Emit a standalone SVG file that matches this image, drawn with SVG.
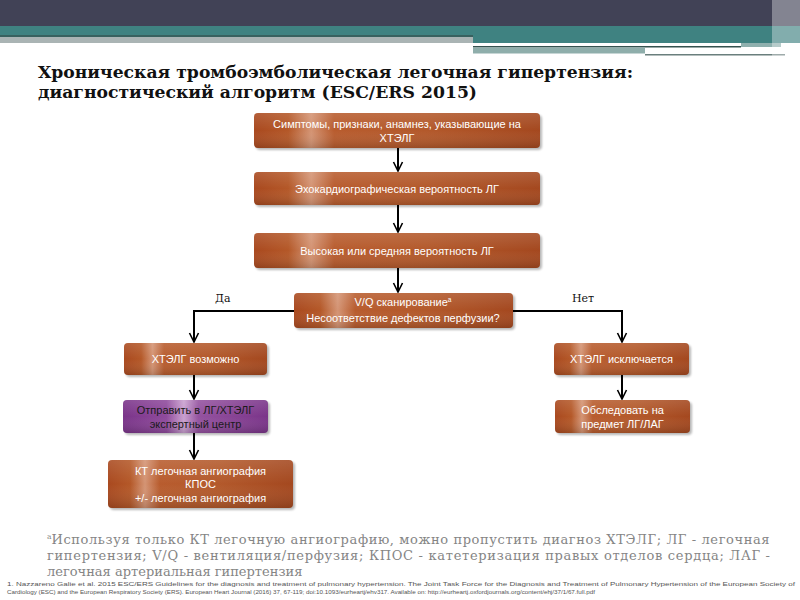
<svg xmlns="http://www.w3.org/2000/svg" width="800" height="600" viewBox="0 0 800 600">
<defs>
<style>
.bt{font-family:"Liberation Sans",Arial,sans-serif;font-size:11px;fill:#ffffff;text-anchor:middle}
.bt.dk{fill:#1a1a1a}
.lbl{font-family:"DejaVu Serif","Liberation Serif",serif;font-size:11px;fill:#111}
.ttl{font-family:"DejaVu Serif","Liberation Serif",serif;font-size:16.5px;font-weight:bold;fill:#111}
.fn{font-family:"DejaVu Serif","Liberation Serif",serif;font-size:13px;fill:#858585}
.ref{font-family:"Liberation Sans",Arial,sans-serif;font-size:6.2px;fill:#555}
.con{fill:none;stroke:#000;stroke-width:2}
.sh{fill:#000;opacity:0.28;filter:url(#blur)}
</style>
<linearGradient id="brown" x1="0" y1="0" x2="1" y2="0">
<stop offset="0" stop-color="#a9491f"/>
<stop offset="0.12" stop-color="#b45828"/>
<stop offset="0.2" stop-color="#d49474"/>
<stop offset="0.28" stop-color="#b85c2e"/>
<stop offset="0.6" stop-color="#b3592b"/>
<stop offset="1" stop-color="#a4481f"/>
</linearGradient>
<linearGradient id="purple" x1="0" y1="0" x2="1" y2="0">
<stop offset="0" stop-color="#7a3489"/>
<stop offset="0.3" stop-color="#8f4a9c"/>
<stop offset="0.42" stop-color="#c9a0cf"/>
<stop offset="0.52" stop-color="#94529f"/>
<stop offset="1" stop-color="#7a3489"/>
</linearGradient>
<linearGradient id="vshade" x1="0" y1="0" x2="0" y2="1">
<stop offset="0" stop-color="#ffffff" stop-opacity="0.12"/>
<stop offset="0.5" stop-color="#ffffff" stop-opacity="0"/>
<stop offset="1" stop-color="#000000" stop-opacity="0.15"/>
</linearGradient>
<filter id="blur" x="-10%" y="-20%" width="120%" height="150%"><feGaussianBlur stdDeviation="1.2"/></filter>
<marker id="ah" viewBox="-1 -6 11 12" refX="9" refY="0" markerWidth="11" markerHeight="12" markerUnits="userSpaceOnUse" orient="auto">
<path d="M0,-4.5 L9,0 L0,4.5" fill="none" stroke="#000" stroke-width="1.6"/>
</marker>
</defs>

<rect x="0" y="0" width="800" height="600" fill="#ffffff"/>

<g id="header">
<rect x="0" y="0" width="800" height="27" fill="#414256"/>
<rect x="0" y="26" width="800" height="11" fill="#3f8281"/>
<rect x="0" y="35" width="473" height="2" fill="#38615f"/>
<rect x="0" y="37" width="473" height="6" fill="#aab4b4"/>
<rect x="473" y="37" width="327" height="6" fill="#3f8281"/>
<rect x="473" y="43" width="268" height="3" fill="#ffffff"/>
<rect x="741" y="43" width="40" height="4" fill="#8fb0ae"/>
<rect x="473" y="46" width="268" height="1.5" fill="#35524f"/>
<rect x="473" y="47.5" width="172" height="6" fill="#8faeab"/>
<rect x="645" y="51" width="140" height="3" fill="#ffffff"/>
<rect x="645" y="54" width="140" height="1.5" fill="#6a7f7d"/>
<rect x="772" y="0" width="28" height="56" fill="#ffffff" opacity="0.35"/>
</g>

<g id="title">
<text class="ttl" x="38" y="78" textLength="595" lengthAdjust="spacingAndGlyphs">Хроническая тромбоэмболическая легочная гипертензия:</text>
<text class="ttl" x="38" y="97.5" textLength="439" lengthAdjust="spacingAndGlyphs">диагностический алгоритм (ESC/ERS 2015)</text>
</g>

<g id="connectors">
<line class="con" x1="398" y1="148" x2="398" y2="171" marker-end="url(#ah)"/>
<line class="con" x1="398" y1="205" x2="398" y2="232" marker-end="url(#ah)"/>
<line class="con" x1="398" y1="268" x2="398" y2="292" marker-end="url(#ah)"/>
<polyline class="con" points="294,311 194,311 194,342" marker-end="url(#ah)"/>
<polyline class="con" points="513,311 622,311 622,342" marker-end="url(#ah)"/>
<line class="con" x1="194" y1="375" x2="194" y2="399" marker-end="url(#ah)"/>
<line class="con" x1="194" y1="433" x2="194" y2="459" marker-end="url(#ah)"/>
<line class="con" x1="622" y1="375" x2="622" y2="399" marker-end="url(#ah)"/>
<text class="lbl" x="215" y="302">Да</text>
<text class="lbl" x="572" y="302">Нет</text>
</g>

<g id="n1">
<rect class="sh" x="256" y="115" width="286" height="35" rx="4"/>
<rect x="254" y="113" width="286" height="35" rx="4" fill="url(#brown)"/>
<rect x="254" y="113" width="286" height="35" rx="4" fill="url(#vshade)"/>
<text class="bt" x="397" y="128">Симптомы, признаки, анамнез, указывающие на</text>
<text class="bt" x="397" y="141.5">ХТЭЛГ</text>
</g>

<g id="n2">
<rect class="sh" x="256" y="174" width="286" height="33" rx="4"/>
<rect x="254" y="172" width="286" height="33" rx="4" fill="url(#brown)"/>
<rect x="254" y="172" width="286" height="33" rx="4" fill="url(#vshade)"/>
<text class="bt" x="397" y="192.5">Эхокардиографическая вероятность ЛГ</text>
</g>

<g id="n3">
<rect class="sh" x="256" y="235" width="286" height="35" rx="4"/>
<rect x="254" y="233" width="286" height="35" rx="4" fill="url(#brown)"/>
<rect x="254" y="233" width="286" height="35" rx="4" fill="url(#vshade)"/>
<text class="bt" x="397" y="254.5">Высокая или средняя вероятность ЛГ</text>
</g>

<g id="n4">
<rect class="sh" x="296" y="295" width="219" height="35" rx="4"/>
<rect x="294" y="293" width="219" height="35" rx="4" fill="url(#brown)"/>
<rect x="294" y="293" width="219" height="35" rx="4" fill="url(#vshade)"/>
<text class="bt" x="403" y="305.5">V/Q сканирование<tspan font-size="6.5" dy="-4">a</tspan></text>
<text class="bt" x="403" y="321.5">Несоответствие дефектов перфузии?</text>
</g>

<g id="n5">
<rect class="sh" x="126" y="345" width="143" height="32" rx="4"/>
<rect x="124" y="343" width="143" height="32" rx="4" fill="url(#brown)"/>
<rect x="124" y="343" width="143" height="32" rx="4" fill="url(#vshade)"/>
<text class="bt" x="195.5" y="363">ХТЭЛГ возможно</text>
</g>

<g id="n6">
<rect class="sh" x="125" y="402" width="145" height="33" rx="4"/>
<rect x="123" y="400" width="145" height="33" rx="4" fill="url(#purple)"/>
<rect x="123" y="400" width="145" height="33" rx="4" fill="url(#vshade)"/>
<text class="bt dk" x="195.5" y="413.5">Отправить в ЛГ/ХТЭЛГ</text>
<text class="bt dk" x="195.5" y="427.5">экспертный центр</text>
</g>

<g id="n7">
<rect class="sh" x="110" y="462" width="185" height="48" rx="4"/>
<rect x="108" y="460" width="185" height="48" rx="4" fill="url(#brown)"/>
<rect x="108" y="460" width="185" height="48" rx="4" fill="url(#vshade)"/>
<text class="bt" x="200.5" y="475">КТ легочная ангиография</text>
<text class="bt" x="200.5" y="488">КПОС</text>
<text class="bt" x="200.5" y="501.5">+/- легочная ангиография</text>
</g>

<g id="n8">
<rect class="sh" x="556" y="345" width="135" height="32" rx="4"/>
<rect x="554" y="343" width="135" height="32" rx="4" fill="url(#brown)"/>
<rect x="554" y="343" width="135" height="32" rx="4" fill="url(#vshade)"/>
<text class="bt" x="621.5" y="363">ХТЭЛГ исключается</text>
</g>

<g id="n9">
<rect class="sh" x="557" y="402" width="135" height="33" rx="4"/>
<rect x="555" y="400" width="135" height="33" rx="4" fill="url(#brown)"/>
<rect x="555" y="400" width="135" height="33" rx="4" fill="url(#vshade)"/>
<text class="bt" x="622.5" y="413.5">Обследовать на</text>
<text class="bt" x="622.5" y="427.5">предмет ЛГ/ЛАГ</text>
</g>

<g id="footnote">
<text class="fn" x="47" y="544"><tspan font-size="7.5" dy="-5">a</tspan><tspan dy="5" textLength="718" lengthAdjust="spacing">Используя только КТ легочную ангиографию, можно пропустить диагноз ХТЭЛГ; ЛГ - легочная</tspan></text>
<text class="fn" x="47" y="560" textLength="723" lengthAdjust="spacing">гипертензия; V/Q - вентиляция/перфузия; КПОС - катетеризация правых отделов сердца;  ЛАГ -</text>
<text class="fn" x="47" y="576">легочная артериальная гипертензия</text>
</g>

<g id="reference">
<text class="ref" x="7" y="585.5" textLength="788" lengthAdjust="spacingAndGlyphs">1. Nazzareno Galie et al. 2015 ESC/ERS Guidelines for the diagnosis and treatment of pulmonary hypertension. The Joint Task Force for the Diagnosis and Treatment of Pulmonary Hypertension of the European Society of</text>
<text class="ref" x="7" y="594" textLength="588" lengthAdjust="spacingAndGlyphs">Cardiology (ESC) and the European Respiratory Society (ERS). European Heart Journal (2016) 37, 67-119; doi:10.1093/eurheartj/ehv317. Available on: http://eurheartj.oxfordjournals.org/content/ehj/37/1/67.full.pdf</text>
</g>
</svg>
